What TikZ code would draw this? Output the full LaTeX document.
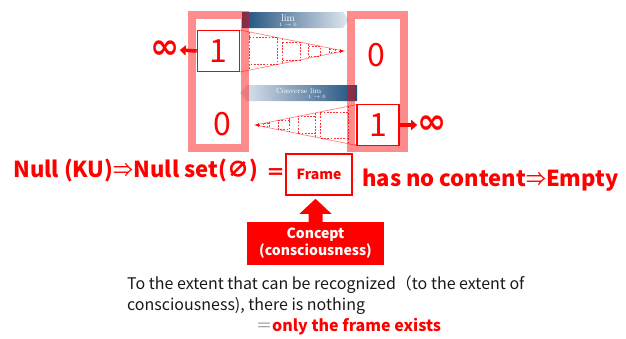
\documentclass[tikz,border=0pt]{standalone}
\usepackage{fontspec}
\newfontfamily\jp{Noto Sans CJK JP}
\newfontfamily\djv{DejaVu Sans}
\usetikzlibrary{arrows.meta,calc}
\definecolor{bdark}{RGB}{30,80,125}
\definecolor{blight}{RGB}{225,232,241}
\definecolor{txt}{RGB}{25,25,25}
\definecolor{eqgray}{RGB}{150,150,150}
\tikzset{
  pinkframe/.style={draw=red, draw opacity=0.45, line width=8pt},
  numbox/.style={draw=red, line width=1.6pt, fill=white, minimum width=42pt, minimum height=41pt, inner sep=0pt, text=red, font=\jp\fontsize{32}{32}\selectfont},
  bignum/.style={text=red, inner sep=0pt, font=\jp\fontsize{32}{32}\selectfont},
  inftxt/.style={text=red, inner sep=0pt, font=\djv\bfseries\fontsize{35}{35}\selectfont},
  inarrow/.style={draw=red, line width=3.5pt, -{Triangle[length=6pt,width=10pt]}},
  conel/.style={draw=red, draw opacity=0.55, line width=0.6pt},
  conedash/.style={draw=red, draw opacity=0.8, line width=0.6pt, dash pattern=on 1.8pt off 1.4pt},
  redbig/.style={text=red, inner sep=0pt, font=\jp\bfseries\fontsize{22}{22}\selectfont},
  framebox/.style={draw=red, line width=1.6pt, minimum width=66pt, minimum height=41pt, inner sep=0pt, text=red, font=\jp\bfseries\fontsize{14}{14}\selectfont},
  conceptbox/.style={fill=red, minimum width=137pt, minimum height=43pt, inner sep=0pt, text=white, align=center, font=\jp\bfseries\fontsize{14}{17}\selectfont},
  desc/.style={text=txt, inner sep=0pt, align=left, font=\jp\fontsize{16}{21}\selectfont},
  bannertxt/.style={text=white, inner sep=0pt},
  subtxt/.style={text=white, inner sep=0pt, font=\fontsize{5}{5}\selectfont}
}
\newcommand\thinimp{{\mdseries\fontsize{20}{20}\selectfont ⇒}}
\newcommand\conedraw[4]{%
  \draw[conel] (#1,{#3-#4}) -- (#2,#3) -- (#1,{#3+#4});
  \pgfmathsetmacro\xs{#2-0.05*(#2-#1)}
  \draw[red, line width=0.6pt, -{Latex[length=4pt,width=4pt]}] (\xs,#3) -- (#2,#3);
  \foreach \ta/\tb in {0.09/0.36,0.41/0.58,0.66/0.77,0.86/0.92}{
    \pgfmathsetmacro\xa{#1+(#2-#1)*\ta}
    \pgfmathsetmacro\xb{#1+(#2-#1)*\tb}
    \pgfmathsetmacro\ha{#4*(1-\ta)}
    \pgfmathsetmacro\hb{#4*(1-\tb)}
    \draw[conedash] (\xa,{#3-\ha}) -- (\xa,{#3+\ha});
    \draw[conedash] (\xa,{#3-\hb}) -- (\xb,{#3-\hb}) -- (\xb,{#3+\hb}) -- (\xa,{#3+\hb});
  }
}
\begin{document}
\begin{tikzpicture}[x=1pt,y=-1pt]
\useasboundingbox (0,0) rectangle (626,338);
% banners
\shade[left color=bdark, right color=blight] (242,12) -- (343,12) -- (349,20) -- (343,28) -- (242,28) -- cycle;
\node[bannertxt, font=\fontsize{10}{10}\selectfont, anchor=base] (lim1) at (288,21) {lim};
\node[subtxt, anchor=base] (lim1s) at (288,26.5) {$1\to0$};
\shade[left color=blight, right color=bdark] (240,93) -- (247,85) -- (357,85) -- (357,101) -- (247,101) -- cycle;
\node[bannertxt, font=\fontsize{7.5}{7.5}\selectfont, anchor=base west] (lim2) at (276,93.5) {Converse lim};
\node[subtxt, font=\fontsize{4}{4}\selectfont, anchor=base] (lim2s) at (317,98.5) {$1\to0$};
% pink frames
\draw[pinkframe] (192,15) rectangle (245,148);
\draw[pinkframe] (351,15) rectangle (404,148);
% cones
\conedraw{240}{344}{51}{21}
\conedraw{357}{255}{125}{20.5}
% boxes and numbers
\node[numbox] (b1) at (218.5,51) {1};
\node[numbox] (b2) at (378,125) {1};
\node[bignum] (z1) at (376,55) {0};
\node[bignum] (z2) at (222,124) {0};
\node[inftxt] (inf1) at (165,50) {∞};
\node[inftxt] (inf2) at (432,125) {∞};
\draw[inarrow] (b1.west) -- (inf1.east);
\draw[inarrow] (b2.east) -- (inf2.west);
% text row
\node[redbig, anchor=base west] (null) at (13,177) {Null (KU)\thinimp Null set(∅)};
\node[framebox] (frame) at (319,174.5) {Frame};
\node[redbig, font=\jp\bfseries\fontsize{19}{19}\selectfont, anchor=east] (eq1) at (frame.west) {＝};
\node[redbig, anchor=base west] (empty) at (362,186) {has no content\thinimp Empty};
% concept
\node[conceptbox] (concept) at (315.5,243.5) {Concept\\(consciousness)};
\coordinate (cn) at (concept.north);
\coordinate (tip) at ($(cn|-frame.south)+(0,3)$);
\fill[red] ($(cn)+(-7,0.5)$) -- ($(cn)+(-7,-8)$) -- ($(cn)+(-16,-8)$) -- (tip) -- ($(cn)+(16,-8)$) -- ($(cn)+(7,-8)$) -- ($(cn)+(7,0.5)$) -- cycle;
% bottom text
\node[desc, anchor=base west] (d1) at (127,289) {To the extent that can be recognized（to the extent of};
\node[desc, anchor=base west] (d2) at (127,310) {consciousness), there is nothing};
\node[desc, text=eqgray, anchor=base west] (eq2) at (256,331) {＝};
\node[desc, text=red, font=\jp\bfseries\fontsize{16}{21}\selectfont, anchor=base west] (only) at (272,331) {only the frame exists};
\end{tikzpicture}
\end{document}
